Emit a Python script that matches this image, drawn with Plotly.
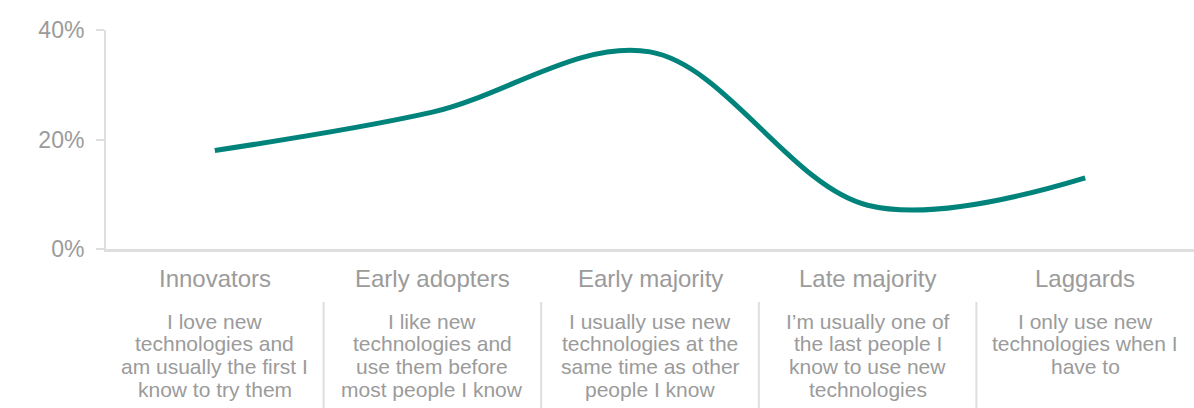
import plotly.graph_objects as go

# Technology adoption profile
categories = ["Innovators", "Early adopters", "Early majority", "Late majority", "Laggards"]
shares = [18, 25, 36, 8, 13]  # percent of respondents
descriptions = [
    ["I love new", "technologies and", "am usually the first I", "know to try them"],
    ["I like new", "technologies and", "use them before", "most people I know"],
    ["I usually use new", "technologies at the", "same time as other", "people I know"],
    ["I\u2019m usually one of", "the last people I", "know to use new", "technologies"],
    ["I only use new", "technologies when I", "have to"],
]
y_ticks = [0, 20, 40]

LINE_COLOR = "#00837a"
TEXT_GREY = "#9b9b9b"
AXIS_GREY = "#dedede"
FONT = "Liberation Sans, Arial, Helvetica, sans-serif"

x_idx = list(range(len(categories)))

fig = go.Figure()
fig.add_trace(go.Scatter(
    x=x_idx, y=shares, mode="lines",
    line=dict(color=LINE_COLOR, width=5, shape="spline", smoothing=1.0),
    hoverinfo="skip", showlegend=False,
))

annotations = []
shapes = []
for i, (cat, lines) in enumerate(zip(categories, descriptions)):
    annotations.append(dict(
        x=i, y=0, xref="x", yref="paper", text=cat, showarrow=False,
        xanchor="center", yanchor="middle", yshift=-29,
        font=dict(family=FONT, size=24, color=TEXT_GREY),
    ))
    for k, ln in enumerate(lines):
        annotations.append(dict(
            x=i, y=0, xref="x", yref="paper", text=ln, showarrow=False,
            xanchor="center", yanchor="middle", yshift=-(72 + 22.7 * k),
            font=dict(family=FONT, size=21, color=TEXT_GREY),
        ))
    if i > 0:
        shapes.append(dict(
            type="line", xref="x", yref="paper", x0=i - 0.5, x1=i - 0.5,
            y0=-53 / 219, y1=-160 / 219,
            line=dict(color=AXIS_GREY, width=2),
        ))

fig.update_layout(
    width=1194, height=408,
    margin=dict(l=106, r=0, t=30, b=159),
    paper_bgcolor="white", plot_bgcolor="white",
    font=dict(family=FONT, color=TEXT_GREY),
    annotations=annotations, shapes=shapes,
    xaxis=dict(
        range=[-0.5, len(categories) - 0.5], showticklabels=False, ticks="",
        showgrid=False, zeroline=False, showline=True,
        linecolor=AXIS_GREY, linewidth=3, fixedrange=True,
    ),
    yaxis=dict(
        range=[0, 40], tickvals=y_ticks, ticktext=[f"{v}%" for v in y_ticks],
        ticks="outside", ticklen=8, tickwidth=2, tickcolor=AXIS_GREY,
        ticklabelstandoff=7,
        showgrid=False, zeroline=False, showline=True,
        linecolor=AXIS_GREY, linewidth=2,
        tickfont=dict(family=FONT, size=23, color=TEXT_GREY),
        fixedrange=True,
    ),
)

fig.write_html("out.html")
